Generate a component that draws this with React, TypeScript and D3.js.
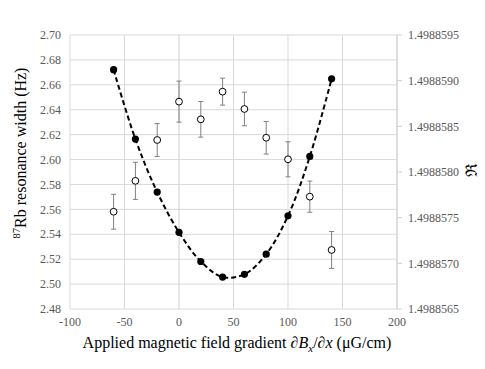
import React from "react";
import * as d3 from "d3";

const gradients = [-60, -40, -20, 0, 20, 40, 60, 80, 100, 120, 140];
const widthHz = [2.5581, 2.5829, 2.6157, 2.6465, 2.6323, 2.6545, 2.6406, 2.6175, 2.6002, 2.5702, 2.5274];
const widthErr = [0.014, 0.0149, 0.0132, 0.0165, 0.0143, 0.0108, 0.0135, 0.0131, 0.0141, 0.0125, 0.0148];
const ratioR = [1.49885912, 1.49885836, 1.49885778, 1.49885734, 1.49885702, 1.49885685, 1.49885688, 1.4988571, 1.49885752, 1.49885817, 1.49885902];

const xTicks = [-100, -50, 0, 50, 100, 150, 200];
const leftTicks = [2.48, 2.5, 2.52, 2.54, 2.56, 2.58, 2.6, 2.62, 2.64, 2.66, 2.68, 2.7];
const rightTicks = [1.4988565, 1.498857, 1.4988575, 1.498858, 1.4988585, 1.498859, 1.4988595];

const W = 485, H = 369;
const m = { left: 70, right: 397, top: 35, bottom: 309 };
const FONT = "Liberation Serif";

export default function App() {
  const x = d3.scaleLinear().domain([-100, 200]).range([m.left, m.right]);
  const yL = d3.scaleLinear().domain([2.48, 2.7]).range([m.bottom, m.top]);
  const yR = d3.scaleLinear().domain([1.4988565, 1.4988595]).range([m.bottom, m.top]);

  const line = d3
    .line<number>()
    .x((_, i) => x(gradients[i]))
    .y((d) => yR(d))
    .curve(d3.curveCatmullRom.alpha(0.5));

  const grid = "#d9d9d9";
  const tickColor = "#595959";
  const ts = { fontFamily: FONT };

  return (
    <svg width={W} height={H} style={{ position: "absolute", left: 0, top: 0, fontFamily: FONT }}>
      <rect width={W} height={H} fill="#fff" />
      {leftTicks.map((t) => (
        <line key={"h" + t} x1={m.left} x2={m.right} y1={yL(t)} y2={yL(t)} stroke={grid} strokeWidth={1} />
      ))}
      {xTicks.map((t) => (
        <line key={"v" + t} x1={x(t)} x2={x(t)} y1={m.top} y2={m.bottom} stroke={t === 0 ? "#cfcfcf" : grid} strokeWidth={1} />
      ))}
      <line x1={m.right} x2={m.right} y1={m.top} y2={m.bottom} stroke="#cfcfcf" />
      {rightTicks.map((t) => (
        <line key={"rt" + t} x1={m.right} x2={m.right + 5} y1={yR(t)} y2={yR(t)} stroke="#cfcfcf" />
      ))}
      {leftTicks.map((t) => (
        <text key={"lt" + t} style={ts} x={m.left - 9} y={yL(t)} dy="0.35em" textAnchor="end" fontSize={12} fill={tickColor}>
          {d3.format(".2f")(t)}
        </text>
      ))}
      {rightTicks.map((t) => (
        <text key={"rl" + t} style={ts} x={m.right + 11} y={yR(t)} dy="0.35em" textAnchor="start" fontSize={12} fill={tickColor}>
          {d3.format(".7f")(t)}
        </text>
      ))}
      {xTicks.map((t) => (
        <text key={"xt" + t} style={ts} x={x(t)} y={326} textAnchor="middle" fontSize={12} fill={tickColor}>
          {t}
        </text>
      ))}
      {gradients.map((g, i) => {
        const cx = x(g);
        const y1 = yL(widthHz[i] + widthErr[i]);
        const y2 = yL(widthHz[i] - widthErr[i]);
        return (
          <g key={"eb" + g} stroke="#808080" strokeWidth={1}>
            <line x1={cx} x2={cx} y1={y1} y2={y2} />
            <line x1={cx - 2.5} x2={cx + 2.5} y1={y1} y2={y1} />
            <line x1={cx - 2.5} x2={cx + 2.5} y1={y2} y2={y2} />
          </g>
        );
      })}
      {gradients.map((g, i) => (
        <circle key={"o" + g} cx={x(g)} cy={yL(widthHz[i])} r={3.4} fill="#fff" stroke="#000" strokeWidth={1} />
      ))}
      <path d={line(ratioR) || ""} fill="none" stroke="#000" strokeWidth={2} strokeDasharray="5,3" />
      {gradients.map((g, i) => (
        <circle key={"f" + g} cx={x(g)} cy={yR(ratioR[i])} r={3.6} fill="#000" />
      ))}
      <text style={ts} x={237} y={348} textAnchor="middle" fontSize={16} fill="#000">
        Applied magnetic field gradient ∂<tspan fontStyle="italic">B</tspan>
        <tspan fontStyle="italic" fontSize={11} dy={4}>x</tspan>
        <tspan dy={-4}>/∂</tspan>
        <tspan fontStyle="italic">x</tspan> (μG/cm)
      </text>
      <text style={ts} transform={`translate(26,153) rotate(-90)`} textAnchor="middle" fontSize={16} fill="#000">
        <tspan fontSize={10.5} dy={-6}>87</tspan>
        <tspan dy={6}>Rb resonance width (Hz)</tspan>
      </text>
      <text style={ts} transform={`translate(471,170) rotate(-90)`} textAnchor="middle" dy="0.35em" fontSize={16} fill="#000">
        ℜ
      </text>
    </svg>
  );
}
